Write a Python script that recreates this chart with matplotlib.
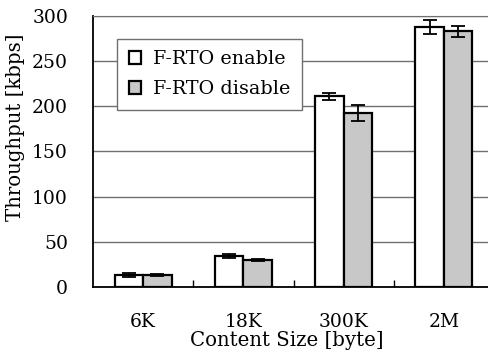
import matplotlib
matplotlib.use("Agg")
import matplotlib.pyplot as plt
import numpy as np

categories = ["6K", "18K", "300K", "2M"]
enable_vals = [13.5, 34, 211, 288]
enable_err = [2.5, 2, 3.5, 8]
disable_vals = [13, 29.5, 193, 283]
disable_err = [1, 1.2, 9, 6]
labels = ["F-RTO enable", "F-RTO disable"]

plt.rcParams['font.family'] = ['DejaVu Serif']
FS = 13.5
LFS = 14.2

fig = plt.figure(figsize=(4.89, 3.56), dpi=100)
W, H = 489, 356
L, R, T, B = 93, 494, 16, 287
ax = fig.add_axes([L / W, 1 - B / H, (R - L) / W, (B - T) / H])

x = np.arange(len(categories))
w = 0.285
ekw = dict(elinewidth=1.3, capthick=1.3, ecolor='black')
ax.bar(x - w / 2, enable_vals, w, yerr=enable_err, color='white', edgecolor='black',
       linewidth=1.6, capsize=5, error_kw=ekw, label=labels[0], zorder=3)
ax.bar(x + w / 2, disable_vals, w, yerr=disable_err, color='#c8c8c8', edgecolor='black',
       linewidth=1.6, capsize=5, error_kw=ekw, label=labels[1], zorder=3)

ax.set_xlim(-0.5, len(categories) - 0.5)
ax.set_ylim(0, 300)
ax.set_yticks(np.arange(0, 301, 50))
ax.yaxis.grid(True, color='#707070', linewidth=1.0, zorder=0)
ax.set_axisbelow(True)

ax.set_xticks(x)
ax.set_xticklabels(categories, fontsize=FS)
ax.tick_params(axis='x', length=0, pad=19)
ax.set_xticks(np.arange(0.5, len(categories) - 1, 1), minor=True)
ax.tick_params(axis='x', which='minor', direction='in', length=5, width=1, color='black')
ax.tick_params(axis='y', length=0, labelsize=FS, pad=18)

ax.spines['right'].set_visible(False)
ax.spines['top'].set_color('#707070')
ax.spines['left'].set_linewidth(1.3)
ax.spines['bottom'].set_linewidth(1.3)

ax.set_ylabel("Throughput [kbps]", fontsize=LFS)
ax.yaxis.set_label_coords((16 - L) / (R - L), 1 - (127 - T) / (B - T))
ax.set_xlabel("Content Size [byte]", fontsize=LFS)
ax.xaxis.set_label_coords((287 - L) / (R - L), -(340 - B) / (B - T))
ax.xaxis.label.set_va('center')
ax.yaxis.label.set_va('center')

leg = ax.legend(loc='upper left', bbox_to_anchor=((117 - L) / (R - L), 1 - (39 - T) / (B - T)),
                fontsize=13.8, frameon=True, fancybox=False, edgecolor='#707070',
                framealpha=1, borderpad=0.6, handlelength=0.65, handleheight=0.65,
                handletextpad=0.65, labelspacing=0.62, borderaxespad=0)
leg.get_frame().set_linewidth(1.0)

fig.savefig("out.png", dpi=100)
